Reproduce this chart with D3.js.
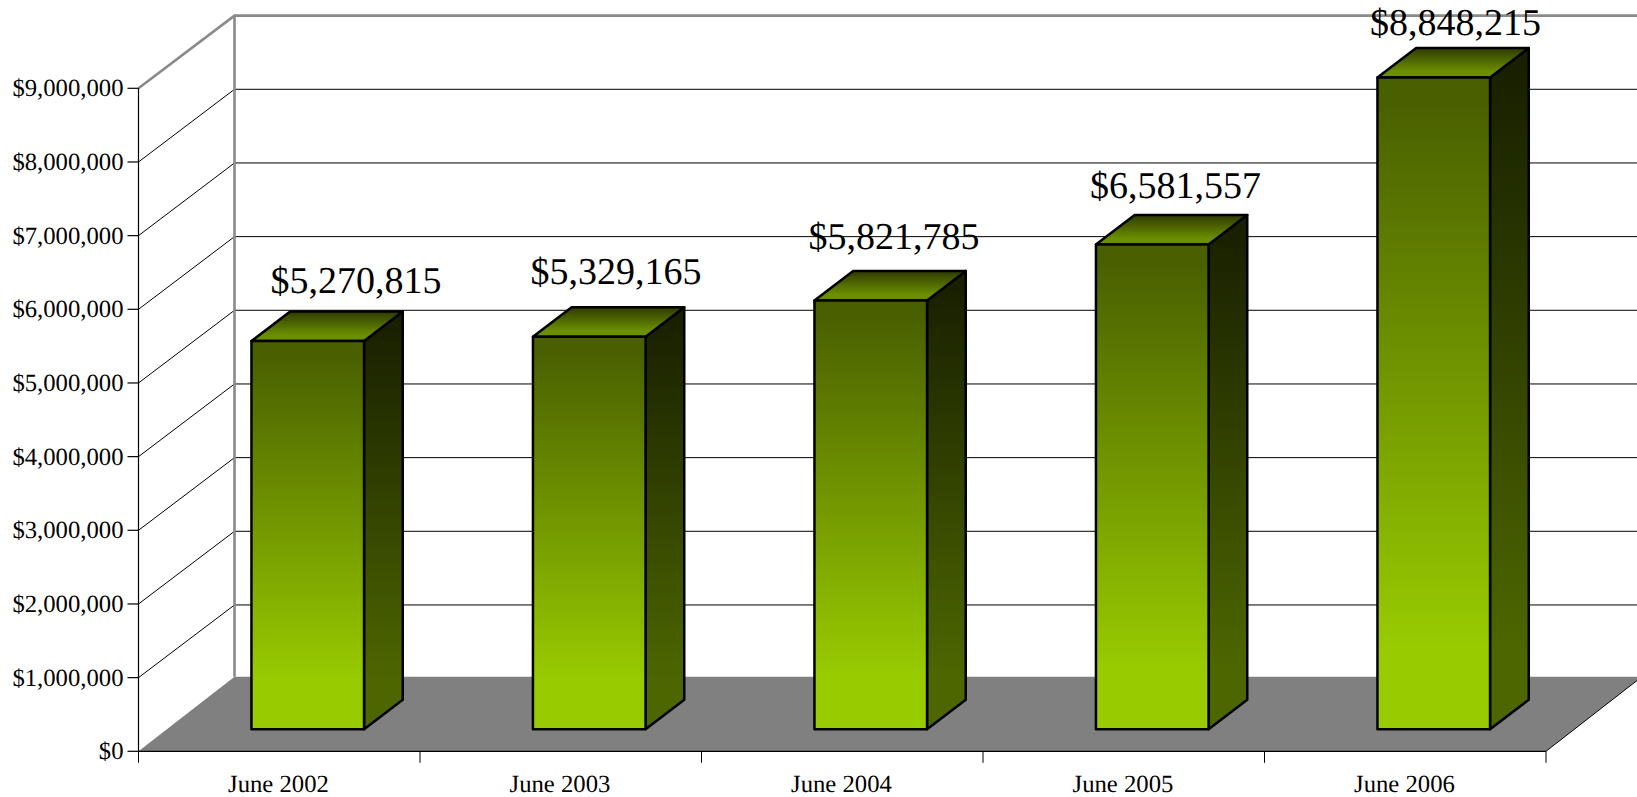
<!DOCTYPE html>
<html lang="en">
<head>
    <meta charset="UTF-8">
    <title>June totals</title>
    <script src="https://d3js.org/d3.v7.min.js"></script>
    <style>
      html, body { margin: 0; padding: 0; background: #fff; }
      svg { display: block; font-family: "Liberation Serif", serif; text-rendering: geometricPrecision; }
    </style>
</head>
<body>
    <script>
        const categories = ["June 2002", "June 2003", "June 2004", "June 2005", "June 2006"];
        const values = [5270815, 5329165, 5821785, 6581557, 8848215];
        const yTicks = [0, 1000000, 2000000, 3000000, 4000000, 5000000, 6000000, 7000000, 8000000, 9000000];

        const width = 1637;
        const height = 797;

        // the 3d box: wall sits behind the axis by depth, bars are part way in
        const depthX = 96, depthY = 72.67;
        const floorLift = 2;
        const barDepthX = 38.7, barDepthY = 29.5;
        const barShiftX = 28.5, barShiftY = 22;

        // labels in the original sit a bit off from the bars, no rule to it
        const labelNudgeX = [19, -2.5, -5.9, -6, -7.5];
        const labelNudgeY = [48.3, 53, 51.7, 46, 42.7];

        const svg = d3.select("body").append("svg")
            .attr("width", width)
            .attr("height", height);

        const x = d3.scaleBand().domain(categories).range([138.5, 1546]);
        const y = d3.scaleLinear().domain([0, 9000000]).range([751.3, 88.3]);
        const money = d3.format("$,");

        const defs = svg.append("defs");
        function gradient(id, stops) {
            const g = defs.append("linearGradient").attr("id", id)
                .attr("x1", 0).attr("y1", 0).attr("x2", 0).attr("y2", 1);
            stops.forEach(s => g.append("stop").attr("offset", s[0]).attr("stop-color", s[1]));
        }
        gradient("front", [[0.04, "#4a6000"], [0.88, "#99cc00"]]);
        gradient("side", [[0.04, "#192000"], [0.88, "#4d6600"]]);
        gradient("top", [[0, "#2f3a00"], [0.8, "#6b8f00"]]);

        const x0 = x.range()[0], x1 = x.range()[1];
        const poly = pts => pts.map(p => p.join(",")).join(" ");

        // floor
        svg.append("polygon")
            .attr("points", poly([[x0, y(0)], [x1, y(0)], [x1 + depthX, y(0) - depthY - floorLift], [x0 + depthX, y(0) - depthY - floorLift]]))
            .attr("fill", "#808080");
        svg.append("line")
            .attr("x1", x1).attr("y1", y(0)).attr("x2", x1 + depthX).attr("y2", y(0) - depthY - floorLift)
            .attr("stroke", "#000").attr("stroke-width", 1);

        // grid on side and back wall
        const grid = yTicks.slice(1, -1);
        svg.selectAll("path.grid")
            .data(grid)
            .join("path")
            .attr("class", "grid")
            .attr("fill", "none")
            .attr("stroke", "#000")
            .attr("stroke-width", 1)
            .attr("d", d => `M${x0},${y(d)}L${x0 + depthX},${y(d) - depthY}H${width}`);

        svg.append("path")
            .attr("fill", "none")
            .attr("stroke", "#8a8a8a")
            .attr("stroke-width", 2.6)
            .attr("d", `M${x0},${y(9000000)}L${x0 + depthX},${y(9000000) - depthY}H${width}`);
        svg.append("line")
            .attr("x1", x0 + depthX).attr("y1", y(9000000) - depthY)
            .attr("x2", x0 + depthX).attr("y2", y(0) - depthY - floorLift)
            .attr("stroke", "#8a8a8a").attr("stroke-width", 2.6);

        // axes
        svg.append("g")
            .attr("transform", `translate(${x0},0)`)
            .call(d3.axisLeft(y).tickValues(yTicks).tickFormat(money).tickSize(11).tickPadding(4).tickSizeOuter(0).offset(0))
            .call(g => g.selectAll("text").attr("font-size", 24.7).attr("font-family", "Liberation Serif").attr("fill", "#000").attr("dy", "0.33em"))
            .call(g => g.selectAll("line,path").attr("stroke", "#000").attr("stroke-width", 1.2));

        svg.append("g")
            .attr("transform", `translate(0,${y(0)})`)
            .call(d3.axisBottom(x).tickSize(0).tickPadding(0).offset(0))
            .call(g => g.select("path").attr("stroke", "#000").attr("stroke-width", 1.2))
            .call(g => g.selectAll("text")
                .attr("font-size", 24.7)
                .attr("font-family", "Liberation Serif")
                .attr("fill", "#000")
                .attr("x", -0.8)
                .attr("y", 40.5)
                .attr("dy", 0));

        svg.selectAll("line.xtick")
            .data(d3.range(categories.length + 1))
            .join("line")
            .attr("class", "xtick")
            .attr("x1", i => x0 + i * x.step()).attr("x2", i => x0 + i * x.step())
            .attr("y1", y(0)).attr("y2", y(0) + 11.5)
            .attr("stroke", "#000").attr("stroke-width", 1);

        // bars
        const barW = x.bandwidth() * 0.4;
        const left = d => x(d.cat) + x.bandwidth() * 0.3 + barShiftX;
        const base = y(0) - barShiftY;
        const topY = d => y(d.val) - barShiftY;
        const rows = categories.map((cat, i) => ({cat: cat, val: values[i], i: i}));

        const bars = svg.selectAll("g.bar")
            .data(rows)
            .join("g")
            .attr("class", "bar")
            .attr("stroke", "#000")
            .attr("stroke-width", 2.5)
            .attr("stroke-linejoin", "round");

        bars.append("polygon")
            .attr("fill", "url(#side)")
            .attr("points", d => poly([
                [left(d) + barW, topY(d)],
                [left(d) + barW + barDepthX, topY(d) - barDepthY],
                [left(d) + barW + barDepthX, base - barDepthY],
                [left(d) + barW, base]]));
        bars.append("polygon")
            .attr("fill", "url(#top)")
            .attr("points", d => poly([
                [left(d), topY(d)],
                [left(d) + barDepthX, topY(d) - barDepthY],
                [left(d) + barW + barDepthX, topY(d) - barDepthY],
                [left(d) + barW, topY(d)]]));
        bars.append("rect")
            .attr("fill", "url(#front)")
            .attr("x", left)
            .attr("y", topY)
            .attr("width", barW)
            .attr("height", d => base - topY(d));

        svg.selectAll("text.value")
            .data(rows)
            .join("text")
            .attr("class", "value")
            .attr("font-size", 38)
            .attr("fill", "#000")
            .attr("x", d => left(d) + labelNudgeX[d.i])
            .attr("y", d => topY(d) - labelNudgeY[d.i])
            .text(d => money(d.val));
    </script>
</body>
</html>
